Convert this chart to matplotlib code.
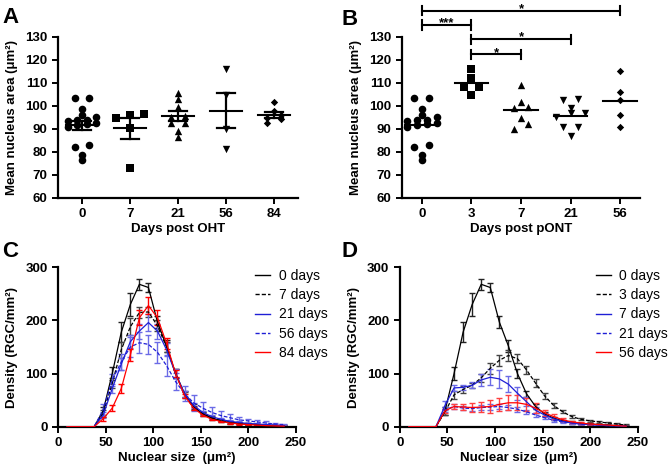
import numpy as np
import matplotlib.pyplot as plt

plt.rcParams["font.family"] = ["Liberation Sans", "DejaVu Sans"]

# ---- panels A / B: mean nucleus area per retina ----
oht_days = ["0", "7", "21", "56", "84"]
ont_days = ["0", "3", "7", "21", "56"]

control = [103.5, 103.2, 98.5, 96.0, 95.0, 93.8, 93.6, 93.5,
           92.5, 92.0, 91.5, 90.8, 82.7, 82.0, 78.7, 76.5]
oht_7 = [96.5, 96.0, 94.5, 90.5, 73.0]
oht_21 = [105.3, 103.1, 99.5, 95.5, 95.0, 92.4, 92.4, 89.0, 86.4]
oht_56 = [116.0, 104.5, 90.0, 81.0]
oht_84 = [101.5, 97.8, 96.0, 94.5, 94.2, 92.3]
ont_3 = [115.8, 112.2, 108.3, 108.3, 104.6]
ont_7 = [109.0, 101.5, 99.6, 98.9, 94.5, 92.0, 89.9]
ont_21 = [102.8, 102.5, 98.9, 96.7, 96.7, 95.2, 90.9, 90.9, 86.8]
ont_56 = [115.2, 106.1, 102.5, 95.8, 90.6]

# significance brackets in B: (from group, to group, label)
ont_sig = [(0, 4, "*"), (0, 1, "***"), (1, 3, "*"), (1, 2, "*")]

# ---- panels C / D: nuclear size distributions ----
size_bins = [9.5, 19, 28.5, 38, 47.5, 57, 66.5, 76, 85.5, 95, 104.5, 114,
             123.5, 133, 142.5, 152, 161.5, 171, 180.5, 190, 199.5, 209,
             218.5, 228, 237.5]

d0 = [0, 0, 0, 0, 30, 100, 178, 230, 268, 262, 197, 152, 100, 62, 38,
      24, 16, 11, 8, 6, 5, 4, 3, 2, 1.5]
d0_sem = [0, 0, 0, 0, 8, 12, 19, 22, 10, 9, 12, 12, 8, 6, 4, 3, 3, 2, 2,
          1.5, 1.5, 1, 1, 1, 1]

oht7 = [0, 0, 0, 0, 25, 82, 145, 188, 215, 216, 190, 150, 100, 60, 35,
        25, 17, 12, 9, 7, 5, 4, 3, 2, 1.5]
oht7_sem = [0, 0, 0, 0, 6, 10, 15, 16, 10, 9, 10, 10, 8, 6, 4, 3, 3, 2, 2,
            1.5, 1.5, 1, 1, 1, 1]
oht21 = [0, 0, 0, 0, 22, 72, 118, 160, 180, 196, 180, 145, 100, 62, 40,
         27, 19, 14, 10, 8, 6, 5, 4, 3, 2]
oht21_sem = [0, 0, 0, 0, 6, 8, 12, 12, 14, 16, 14, 12, 8, 6, 4, 3, 3, 2,
             2, 2, 1.5, 1.5, 1, 1, 1]
oht56 = [0, 0, 0, 0, 32, 88, 122, 150, 158, 155, 140, 115, 85, 62, 45,
         35, 27, 21, 17, 13, 11, 9, 7, 5, 4]
oht56_sem = [0, 0, 0, 0, 10, 12, 15, 18, 20, 18, 20, 20, 16, 14, 15, 12,
             10, 8, 6, 5, 4, 3, 3, 2, 2]
oht84 = [0, 0, 0, 0, 15, 35, 72, 135, 205, 228, 205, 157, 100, 58, 35,
         22, 14, 10, 7, 5, 4, 3, 2, 1.5, 1]
oht84_sem = [0, 0, 0, 0, 4, 6, 8, 12, 14, 16, 14, 10, 6, 4, 3, 2, 2, 1.5,
             1, 1, 1, 1, 1, 1, 1]

ont3 = [0, 0, 0, 0, 28, 60, 70, 78, 92, 110, 125, 134, 128, 107, 82, 58,
        40, 28, 19, 14, 11, 9, 7, 5, 3]
ont3_sem = [0, 0, 0, 0, 6, 8, 6, 5, 8, 10, 10, 10, 9, 8, 7, 5, 4, 3, 3,
            2, 2, 2, 2, 1.5, 1.5]
ont7 = [0, 0, 0, 0, 40, 73, 74, 78, 88, 93, 90, 80, 63, 47, 31, 22, 15,
        10, 7, 5, 4, 3, 2, 1.5, 1]
ont7_sem = [0, 0, 0, 0, 8, 6, 5, 6, 12, 15, 17, 15, 12, 8, 6, 4, 3, 2, 2,
            1.5, 1.5, 1, 1, 1, 1]
ont21 = [0, 0, 0, 0, 32, 38, 35, 34, 36, 37, 38, 36, 33, 28, 22, 17, 12,
         9, 7, 5, 4, 3, 2, 2, 1]
ont21_sem = [0, 0, 0, 0, 5, 4, 4, 4, 5, 5, 5, 5, 5, 4, 4, 3, 3, 2, 2, 1.5,
             1.5, 1, 1, 1, 1]
ont56 = [0, 0, 0, 0, 30, 38, 37, 36, 37, 38, 42, 45, 45, 42, 35, 26, 19,
         13, 9, 7, 5, 4, 3, 2, 1]
ont56_sem = [0, 0, 0, 0, 4, 5, 6, 8, 10, 12, 12, 14, 14, 12, 10, 6, 4, 3,
             2, 2, 1.5, 1, 1, 1, 1]


def swarm(vals, tol=2.2):
    """Spread points with close values sideways, like a GraphPad scatter."""
    vals = np.asarray(vals)
    order = np.argsort(vals)
    rows = []
    for i in order:
        if rows and vals[i] - vals[rows[-1][0]] < tol:
            rows[-1].append(i)
        else:
            rows.append([i])
    offs = np.zeros(len(vals))
    for row in rows:
        n = len(row)
        if n == 1:
            continue
        step = min(0.3, 0.6 / (n - 1))
        for k, i in enumerate(row):
            offs[i] = (k - (n - 1) / 2) * step
    return offs


def style_axes(ax):
    for side in ["top", "right"]:
        ax.spines[side].set_visible(False)
    for side in ["left", "bottom"]:
        ax.spines[side].set_linewidth(1.6)
    ax.tick_params(width=1.4, length=4, labelsize=9.5)
    for lab in ax.get_xticklabels() + ax.get_yticklabels():
        lab.set_fontweight("bold")


def scatter_panel(ax, groups, labels, xlabel, sem_bars, xlim):
    markers = ["o", "s", "^", "v", "D"]
    sizes = [30, 26, 28, 28, 14]
    for i, vals in enumerate(groups):
        x = i + swarm(vals)
        ax.scatter(x, vals, marker=markers[i], s=sizes[i], color="black",
                   linewidths=0, zorder=3)
        m = np.mean(vals)
        ax.plot([i - 0.34, i + 0.34], [m, m], color="black", lw=1.5, zorder=4)
        if sem_bars:
            se = np.std(vals, ddof=1) / np.sqrt(len(vals))
            ax.plot([i, i], [m - se, m + se], color="black", lw=1.6, zorder=4)
            for y in (m - se, m + se):
                ax.plot([i - 0.19, i + 0.19], [y, y], color="black", lw=1.6,
                        zorder=4)
    ax.set_xlim(*xlim)
    ax.set_ylim(60, 130)
    ax.set_yticks(range(60, 131, 10))
    ax.set_xticks(range(len(groups)))
    ax.set_xticklabels(labels)
    ax.set_ylabel("Mean nucleus area (μm²)", fontsize=9.5, fontweight="bold",
                  labelpad=5)
    ax.set_xlabel(xlabel, fontsize=9.5, fontweight="bold", labelpad=2)
    style_axes(ax)


def curve_panel(ax, series, legend_x):
    for vals, sem, color, ecolor, ls, label in series:
        ax.errorbar(size_bins[4:], vals[4:], yerr=sem[4:], fmt="none",
                    ecolor=ecolor, elinewidth=1.0, capsize=2.5,
                    capthick=1.0, zorder=2)
        ax.plot(size_bins, vals, color=color, lw=0.9, ls=ls, label=label,
                zorder=3)
    ax.set_xlim(0, 250)
    ax.set_ylim(0, 300)
    ax.set_xticks(range(0, 251, 50))
    ax.set_yticks([0, 100, 200, 300])
    ax.set_ylabel("Density (RGC/mm²)", fontsize=9.5, fontweight="bold",
                  labelpad=5)
    ax.set_xlabel("Nuclear size  (μm²)", fontsize=9.5, fontweight="bold",
                  labelpad=2)
    style_axes(ax)
    leg = ax.legend(loc="upper left", bbox_to_anchor=(legend_x, 0.99),
                    frameon=False, handlelength=1.1, handletextpad=0.6,
                    labelspacing=0.38, fontsize=10, borderaxespad=0,
                    borderpad=0)
    for line in leg.get_lines():
        line.set_linewidth(1.0)


fig = plt.figure(figsize=(6.68, 4.67), dpi=100)
ax_a = fig.add_axes([0.0868, 0.5767, 0.3593, 0.3448])
ax_b = fig.add_axes([0.6018, 0.5767, 0.3563, 0.3448])
ax_c = fig.add_axes([0.0868, 0.0863, 0.3563, 0.3413])
ax_d = fig.add_axes([0.5984, 0.0863, 0.3567, 0.3413])

scatter_panel(ax_a, [control, oht_7, oht_21, oht_56, oht_84], oht_days,
              "Days post OHT", True, (-0.5, 4.5))
scatter_panel(ax_b, [control, ont_3, ont_7, ont_21, ont_56], ont_days,
              "Days post pONT", False, (-0.4, 4.4))

# significance brackets above panel B
bracket_y = [141.2, 135.1, 128.9, 122.3]
for (g1, g2, txt), y in zip(ont_sig, bracket_y):
    ax_b.plot([g1, g2], [y, y], color="black", lw=1.5, clip_on=False)
    for g in (g1, g2):
        ax_b.plot([g, g], [y - 2.0, y + 2.0], color="black", lw=1.5,
                  clip_on=False)
    ax_b.text((g1 + g2) / 2, y - 0.6, txt, ha="center", va="baseline",
              fontsize=9.5, fontweight="bold")

blue = "#1f1fd6"
light_blue = "#6b6be6"
curve_panel(ax_c, [
    (d0, d0_sem, "black", "#222222", "-", "0 days"),
    (oht7, oht7_sem, "black", "#444444", (0, (3, 1.5)), "7 days"),
    (oht21, oht21_sem, blue, light_blue, "-", "21 days"),
    (oht56, oht56_sem, blue, light_blue, (0, (3, 1.5)), "56 days"),
    (oht84, oht84_sem, "red", "red", "-", "84 days"),
], 0.828)
curve_panel(ax_d, [
    (d0, d0_sem, "black", "#222222", "-", "0 days"),
    (ont3, ont3_sem, "black", "#444444", (0, (3, 1.5)), "3 days"),
    (ont7, ont7_sem, blue, light_blue, "-", "7 days"),
    (ont21, ont21_sem, blue, light_blue, (0, (3, 1.5)), "21 days"),
    (ont56, ont56_sem, "red", "#ff4040", "-", "56 days"),
], 0.822)

for letter, (x, y) in zip("ABCD", [(0.003, 0.985), (0.511, 0.98),
                                    (0.003, 0.485), (0.511, 0.485)]):
    fig.text(x, y, letter, fontsize=16, fontweight="bold", va="top")

fig.savefig("out.png", dpi=100)
